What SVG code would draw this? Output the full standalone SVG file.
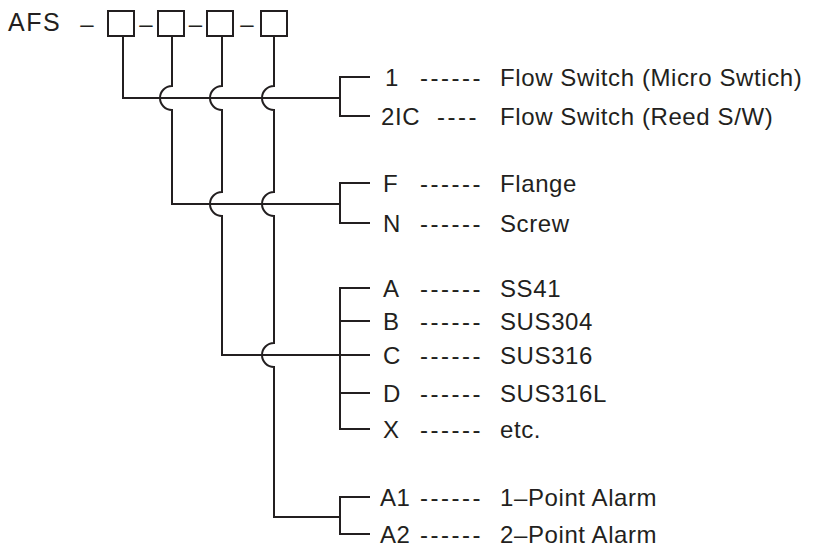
<svg xmlns="http://www.w3.org/2000/svg" width="834" height="551" viewBox="0 0 834 551">
<style>
text{font-family:"Liberation Sans",Arial,sans-serif;font-size:24px;fill:#231f20;letter-spacing:0.6px}
.d{letter-spacing:2.5px}
.m{text-anchor:middle;letter-spacing:0}
.t{font-size:25px;letter-spacing:1.5px}
.ln{fill:none;stroke:#231f20;stroke-width:2}
.bx{fill:#fff;stroke:#231f20;stroke-width:2}
</style>
<rect width="834" height="551" fill="#fff"/>
<g id="title">
<text class="t" x="8" y="31">AFS</text>
<text class="m" x="87" y="32">–</text>
<text class="m" x="146" y="32">–</text>
<text class="m" x="195.5" y="32">–</text>
<text class="m" x="247" y="32">–</text>
</g>
<g id="box1"><rect class="bx" x="108" y="11" width="26" height="25"/></g>
<g id="box2"><rect class="bx" x="158" y="11" width="26" height="25"/></g>
<g id="box3"><rect class="bx" x="207" y="11" width="26" height="25"/></g>
<g id="box4"><rect class="bx" x="261" y="11" width="26" height="25"/></g>
<g id="connectors" class="ln">
<path class="ln" d="M123 36 V98 H340"/>
<path class="ln" d="M172 36 V86 A12 12 0 0 0 172 110 V204 H340"/>
<path class="ln" d="M222 36 V86 A12 12 0 0 0 222 110 V192 A12 12 0 0 0 222 216 V355 H340"/>
<path class="ln" d="M274 36 V86 A12 12 0 0 0 274 110 V192 A12 12 0 0 0 274 216 V343 A12 12 0 0 0 274 367 V517 H340"/>
<path class="ln" d="M370 77 H340 V116 H370"/>
<path class="ln" d="M370 183 H340 V223 H370"/>
<path class="ln" d="M370 288 H340 V429 H370 M340 321 H370 M340 355 H370 M340 393 H370"/>
<path class="ln" d="M370 497 H340 V534 H370"/>
</g>
<g id="g-switch">
<text x="385" y="86">1</text><text class="d" x="420" y="86">------</text><text x="500" y="86">Flow Switch (Micro Swtich)</text>
<text x="381" y="125">2IC</text><text class="d" x="437" y="125">----</text><text x="500" y="125">Flow Switch (Reed S/W)</text>
</g>
<g id="g-conn">
<text x="383" y="192">F</text><text class="d" x="420" y="192">------</text><text x="500" y="192">Flange</text>
<text x="383" y="232">N</text><text class="d" x="420" y="232">------</text><text x="500" y="232">Screw</text>
</g>
<g id="g-mat">
<text x="383" y="297">A</text><text class="d" x="420" y="297">------</text><text x="500" y="297">SS41</text>
<text x="383" y="330">B</text><text class="d" x="420" y="330">------</text><text x="500" y="330">SUS304</text>
<text x="383" y="364">C</text><text class="d" x="420" y="364">------</text><text x="500" y="364">SUS316</text>
<text x="383" y="402">D</text><text class="d" x="420" y="402">------</text><text x="500" y="402">SUS316L</text>
<text x="383" y="438">X</text><text class="d" x="420" y="438">------</text><text x="500" y="438">etc.</text>
</g>
<g id="g-alarm">
<text x="380" y="506">A1</text><text class="d" x="420" y="506">------</text><text x="500" y="506">1–Point Alarm</text>
<text x="380" y="543">A2</text><text class="d" x="420" y="543">------</text><text x="500" y="543">2–Point Alarm</text>
</g>
</svg>
